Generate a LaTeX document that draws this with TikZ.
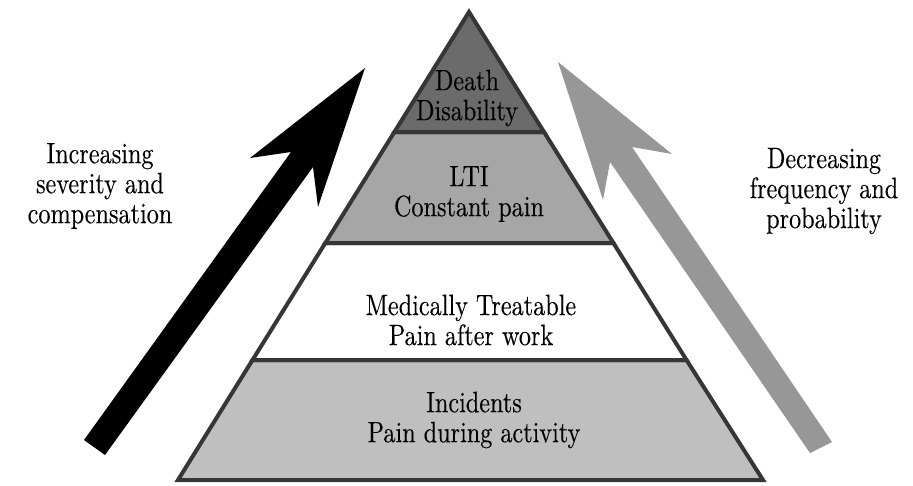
\documentclass[tikz,border=0pt]{standalone}
\usepackage{fontspec}
\setmainfont{lmroman10-regular.otf}[FakeStretch=0.82, FakeBold=0.2]
\definecolor{outl}{HTML}{363636}
\definecolor{topfill}{HTML}{6B6B6B}
\definecolor{ltifill}{HTML}{A6A6A6}
\definecolor{botfill}{HTML}{BFBFBF}
\definecolor{arrgray}{HTML}{979797}
\tikzset{
  band/.style={draw=outl, line width=4pt, line join=miter},
  lbl/.style={align=center, font=\fontsize{29.5}{30}\selectfont, inner sep=0pt},
}
\begin{document}
\begin{tikzpicture}[x=1pt,y=-1pt]
\useasboundingbox (0,0) rectangle (913,485);
% pyramid corner coordinates
\coordinate (A) at (469,12);
\coordinate (L1) at (394.4,132);
\coordinate (R1) at (544,132);
\coordinate (L2) at (325.3,243);
\coordinate (R2) at (613.4,243);
\coordinate (L3) at (252.5,360);
\coordinate (R3) at (686.5,360);
\coordinate (L4) at (178,480);
\coordinate (R4) at (763,480);
% bands
\filldraw[band, fill=botfill] (L3) -- (R3) -- (R4) -- (L4) -- cycle;
\filldraw[band, fill=white] (L2) -- (R2) -- (R3) -- (L3) -- cycle;
\filldraw[band, fill=ltifill] (L1) -- (R1) -- (R2) -- (L2) -- cycle;
\filldraw[band, fill=topfill] (A) -- (R1) -- (L1) -- cycle;
% black arrow
\coordinate (bt1) at (84,440);
\coordinate (bt2) at (105,455);
\coordinate (bri) at (313,167);
\coordinate (brb) at (318,207);
\coordinate (btip) at (365,68);
\coordinate (blb) at (250,158);
\coordinate (bli) at (291,152);
\fill[black] (bt1) -- (bt2) -- (bri) -- (brb) -- (btip) -- (blb) -- (bli) -- cycle;
% gray arrow
\coordinate (gt1) at (810,453);
\coordinate (gt2) at (832,442);
\coordinate (gri) at (632,147);
\coordinate (grb) at (672,154);
\coordinate (gtip) at (558,62);
\coordinate (glb) at (603,200);
\coordinate (gli) at (610,162);
\fill[arrgray] (gt1) -- (gt2) -- (gri) -- (grb) -- (gtip) -- (glb) -- (gli) -- cycle;
% labels
\node[lbl] (death) at (467,98) {Death\\Disability};
\node[lbl] (lti) at (469,194) {LTI\\Constant pain};
\node[lbl] (med) at (471,320) {Medically Treatable\\Pain after work};
\node[lbl] (inc) at (474,420) {Incidents\\Pain during activity};
\node[lbl] (left) at (100,186) {Increasing\\severity and\\compensation};
\node[lbl] (right) at (824,191) {Decreasing\\frequency and\\probability};
\end{tikzpicture}
\end{document}
